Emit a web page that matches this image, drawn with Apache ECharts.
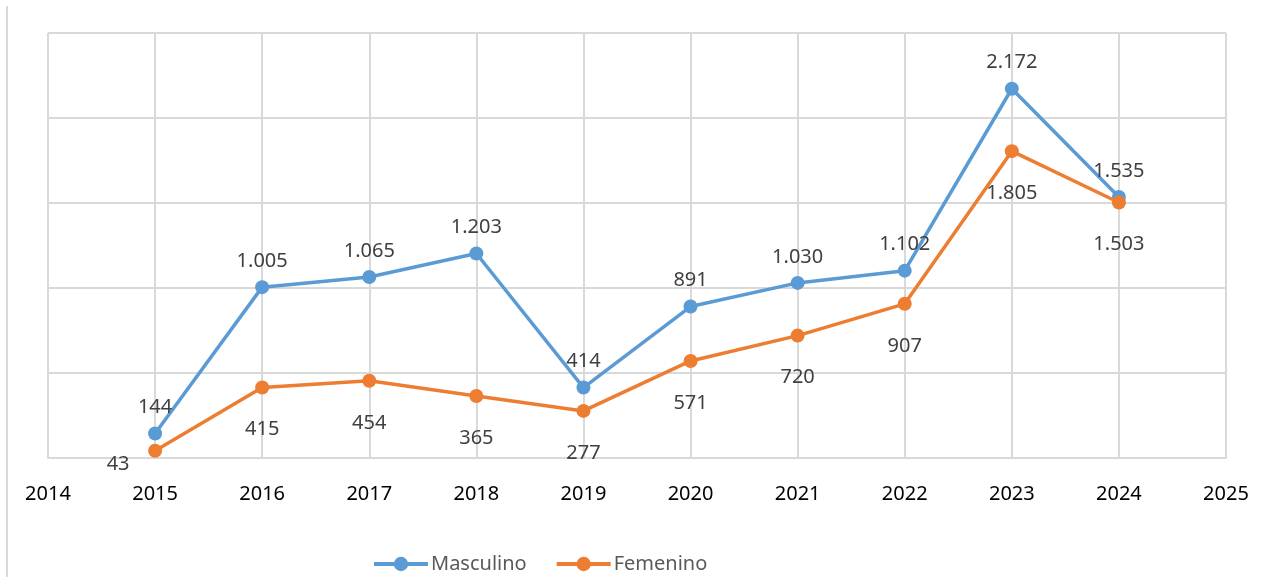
<!DOCTYPE html>
<html>
<head>
<meta charset="utf-8">
<script src="https://cdn.jsdelivr.net/npm/echarts@6/dist/echarts.min.js"></script>
<style>
html,body{margin:0;padding:0;background:#fff;}
#c{width:1268px;height:577px;}
</style>
</head>
<body>
<div id="c"></div>
<script>
const years = [2015, 2016, 2017, 2018, 2019, 2020, 2021, 2022, 2023, 2024];
const masculino = [144, 1005, 1065, 1203, 414, 891, 1030, 1102, 2172, 1535];
const femenino = [43, 415, 454, 365, 277, 571, 720, 907, 1805, 1503];
const seriesNames = ['Masculino', 'Femenino'];

const FONT = 'Noto Sans';
function fmt(v) {
  return String(v).replace(/\B(?=(\d{3})+(?!\d))/g, '.');
}
const chart = echarts.init(document.getElementById('c'));
chart.setOption({
  animation: false,
  backgroundColor: '#fff',
  textStyle: { fontFamily: FONT },
  graphic: [{
    type: 'line',
    shape: { x1: 7, y1: 6, x2: 7, y2: 577 },
    style: { stroke: '#d9d9d9', lineWidth: 2 }
  }],
  grid: { left: 48, right: 42, top: 33, bottom: 119 },
  legend: {
    left: 367,
    top: 549,
    itemWidth: 54,
    itemHeight: 18,
    itemGap: 28,
    lineStyle: { width: 4 },
    textStyle: { fontFamily: FONT, fontSize: 20, color: '#595959', padding: [0, 0, 0, -2] },
    data: seriesNames
  },
  xAxis: {
    type: 'value',
    min: 2014,
    max: 2025,
    interval: 1,
    axisLine: { show: true, lineStyle: { color: '#d9d9d9', width: 2 } },
    axisTick: { show: false },
    axisLabel: { color: '#000', fontSize: 20, fontFamily: FONT, margin: 26, formatter: v => String(v) },
    splitLine: { show: true, lineStyle: { color: '#d9d9d9', width: 2 } }
  },
  yAxis: {
    type: 'value',
    min: 0,
    max: 2500,
    interval: 500,
    axisLine: { show: false },
    axisTick: { show: false },
    axisLabel: { show: false },
    splitLine: { show: true, lineStyle: { color: '#d9d9d9', width: 2 } }
  },
  series: [
    {
      name: seriesNames[0],
      type: 'line',
      data: years.map((y, i) => [y, masculino[i]]),
      symbol: 'circle',
      symbolSize: 14,
      itemStyle: { color: '#5B9BD5' },
      lineStyle: { color: '#5B9BD5', width: 3.5 },
      label: {
        show: true,
        position: 'top',
        distance: 5,
        offset: [0, -4],
        fontSize: 20,
        lineHeight: 20,
        color: '#404040',
        fontFamily: FONT,
        formatter: p => fmt(p.value[1])
      },
      z: 3
    },
    {
      name: seriesNames[1],
      type: 'line',
      data: years.map((y, i) => {
        const item = { value: [y, femenino[i]] };
        if (i === 0) item.label = { offset: [-37, -8] };
        return item;
      }),
      symbol: 'circle',
      symbolSize: 14,
      itemStyle: { color: '#ED7D31' },
      lineStyle: { color: '#ED7D31', width: 3.5 },
      label: {
        show: true,
        position: 'bottom',
        distance: 5,
        offset: [0, 20],
        fontSize: 20,
        lineHeight: 20,
        color: '#404040',
        fontFamily: FONT,
        formatter: p => fmt(p.value[1])
      },
      z: 4
    }
  ]
});
</script>
</body>
</html>
